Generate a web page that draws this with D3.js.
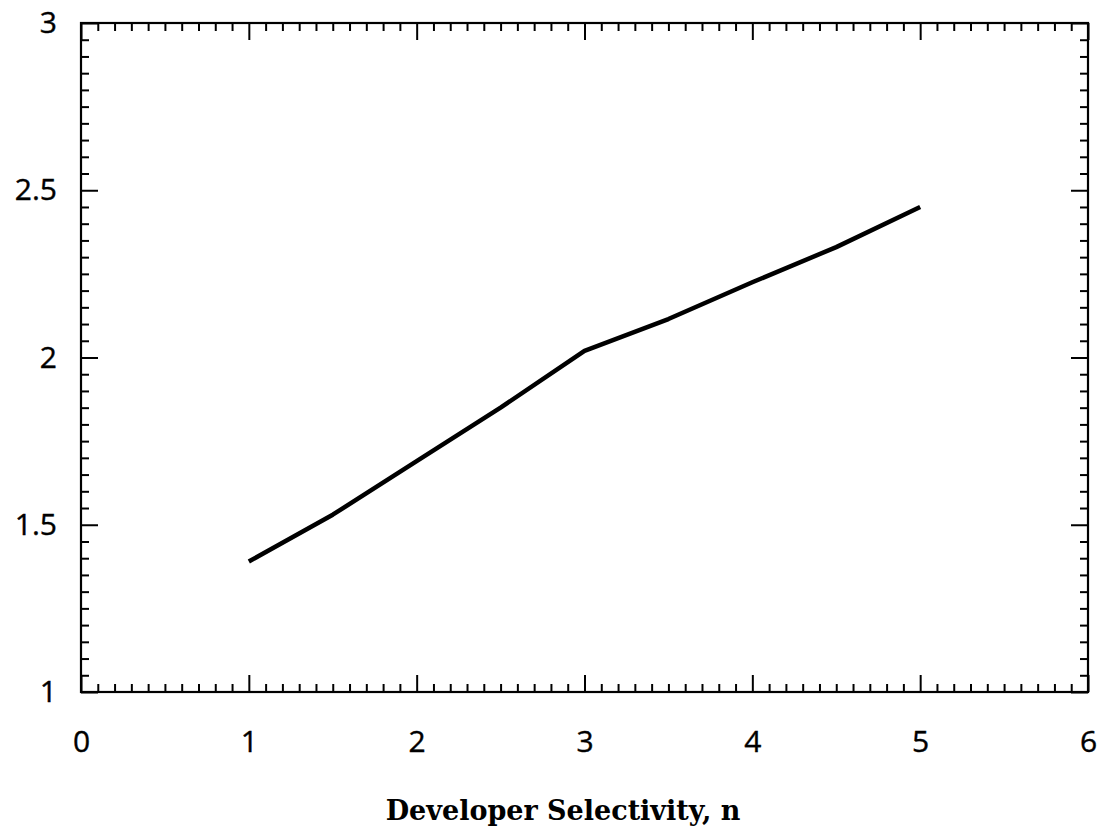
<!DOCTYPE html>
<html>
<head>
<meta charset="utf-8">
<script src="https://cdn.jsdelivr.net/npm/d3@7"></script>
<style>
  html, body { margin: 0; padding: 0; background: #fff; }
  svg { display: block; }
  .axis path.domain { display: none; }
  .axis line { stroke: #000; stroke-width: 2; }
</style>
</head>
<body>
<svg id="chart" width="1099" height="832"></svg>
<script>
// Developer selectivity n versus the plotted response
const selectivity = [1, 1.5, 2, 2.5, 3, 3.5, 4, 4.5, 5];
const response    = [1.39, 1.53, 1.69, 1.85, 2.02, 2.115, 2.225, 2.33, 2.45];

const xTickLabels = [0, 1, 2, 3, 4, 5, 6];
const yTickLabels = [1, 1.5, 2, 2.5, 3];
const xAxisTitle = "Developer Selectivity, n";

const svg = d3.select("#chart");
const plotLeft = 81, plotRight = 1088, plotTop = 23, plotBottom = 692;

const x = d3.scaleLinear().domain([0, 6]).range([plotLeft, plotRight]);
const y = d3.scaleLinear().domain([1, 3]).range([plotBottom, plotTop]);

// minor / major tick positions
const xMinor = d3.range(0, 61).map(i => i / 10).filter(v => !Number.isInteger(v));
const yMinor = d3.range(0, 41).map(i => 1 + i / 20).filter(v => !yTickLabels.some(t => Math.abs(t - v) < 1e-9));
const minorLen = 8, majorLen = 17;

function tickAxis(axisFn, scale, values, len, transform) {
  svg.append("g")
    .attr("class", "axis")
    .attr("transform", transform)
    .call(axisFn(scale).tickValues(values).tickSize(-len).tickFormat(""));
}

// inward ticks on all four sides
tickAxis(d3.axisBottom, x, xMinor, minorLen, `translate(0,${plotBottom})`);
tickAxis(d3.axisBottom, x, xTickLabels, majorLen, `translate(0,${plotBottom})`);
tickAxis(d3.axisTop, x, xMinor, minorLen, `translate(0,${plotTop})`);
tickAxis(d3.axisTop, x, xTickLabels, majorLen, `translate(0,${plotTop})`);
tickAxis(d3.axisLeft, y, yMinor, minorLen, `translate(${plotLeft},0)`);
tickAxis(d3.axisLeft, y, yTickLabels, majorLen, `translate(${plotLeft},0)`);
tickAxis(d3.axisRight, y, yMinor, minorLen, `translate(${plotRight},0)`);
tickAxis(d3.axisRight, y, yTickLabels, majorLen, `translate(${plotRight},0)`);

// frame
svg.append("rect")
  .attr("x", plotLeft).attr("y", plotTop)
  .attr("width", plotRight - plotLeft).attr("height", plotBottom - plotTop)
  .attr("fill", "none").attr("stroke", "#000").attr("stroke-width", 2.2);

// tick labels
const xLab = svg.append("g")
  .attr("class", "axis")
  .attr("transform", `translate(0,${plotBottom})`)
  .call(d3.axisBottom(x).tickValues(xTickLabels).tickSize(0).tickPadding(39).tickFormat(d3.format("d")));

const yLab = svg.append("g")
  .attr("class", "axis")
  .attr("transform", `translate(${plotLeft},0)`)
  .call(d3.axisLeft(y).tickValues(yTickLabels).tickSize(0).tickPadding(24).tickFormat(d => String(d)));

[xLab, yLab].forEach(g => g.selectAll("text")
  .attr("font-family", "'Open Sans', sans-serif")
  .attr("font-size", 30)
  .attr("fill", "#000")
  .attr("stroke", "#000")
  .attr("stroke-width", 0.4));

// data line
svg.append("path")
  .datum(selectivity.map((n, i) => [n, response[i]]))
  .attr("fill", "none")
  .attr("stroke", "#000")
  .attr("stroke-width", 4.5)
  .attr("stroke-linejoin", "round")
  .attr("d", d3.line().x(d => x(d[0])).y(d => y(d[1])));

// axis title
svg.append("text")
  .attr("x", 563)
  .attr("y", 820)
  .attr("text-anchor", "middle")
  .attr("font-family", "'DejaVu Serif', serif")
  .attr("font-weight", "bold")
  .attr("font-size", 27)
  .text(xAxisTitle);
</script>
</body>
</html>
